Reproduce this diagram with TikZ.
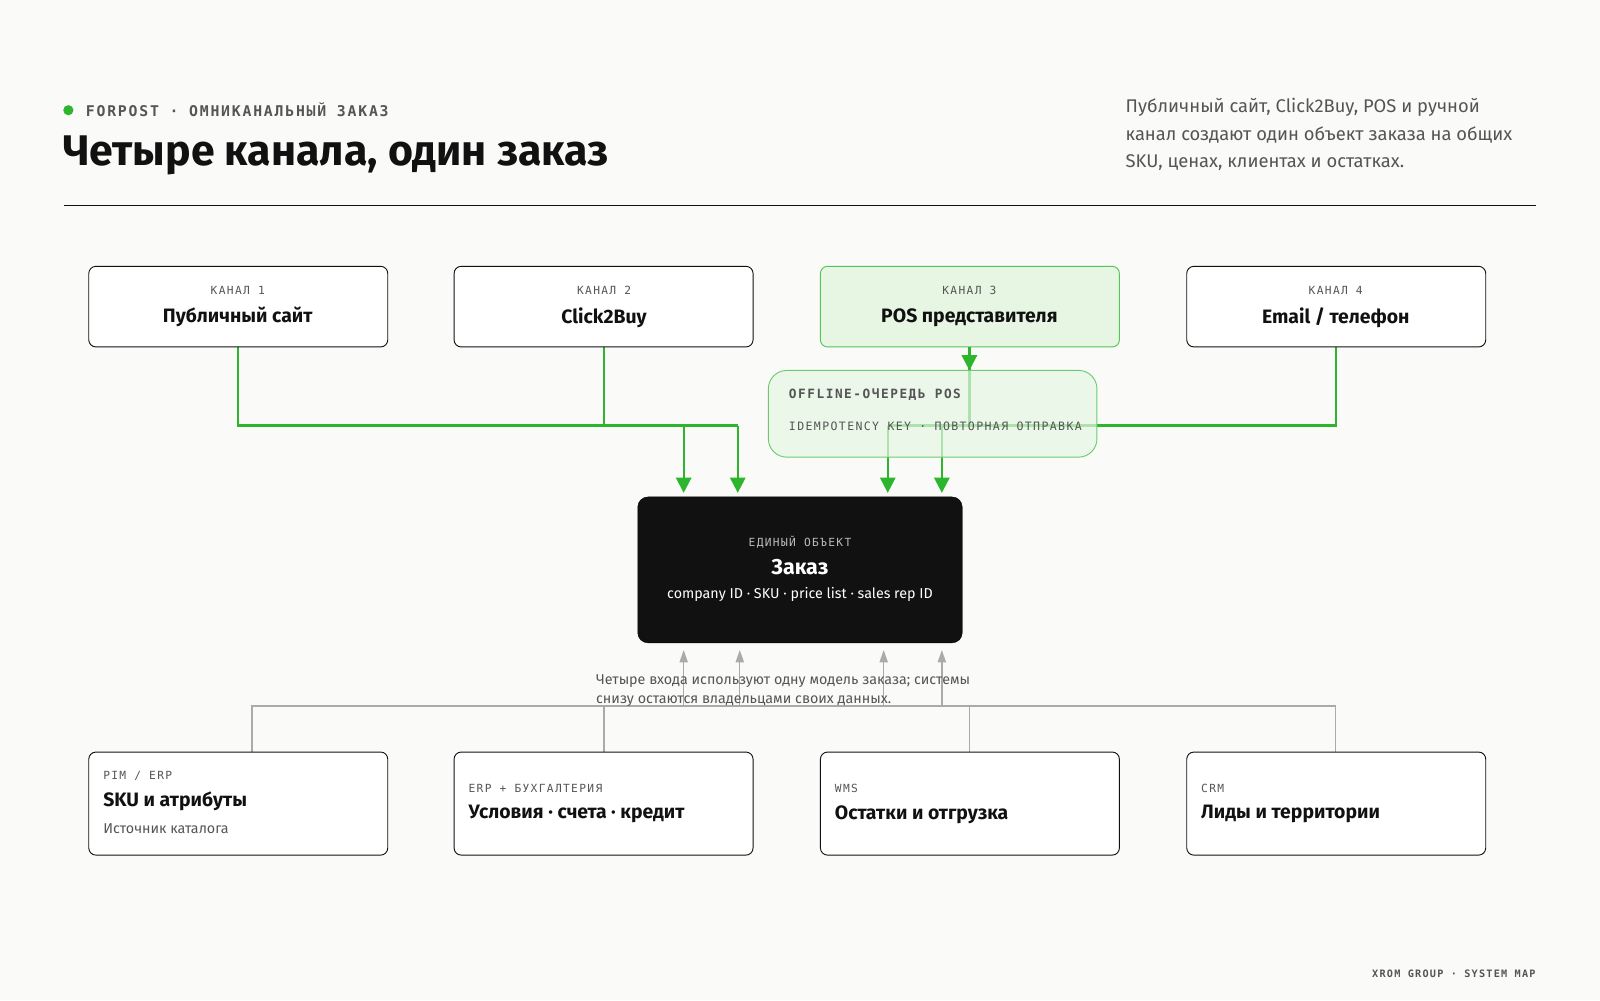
\documentclass[tikz,border=0pt]{standalone}
\usepackage{fontspec}
\setmainfont{Fira Sans}
\newfontfamily\mono[LetterSpace=12]{DejaVu Sans Mono}
\usetikzlibrary{arrows.meta}
\definecolor{bg}{HTML}{FAFAF8}
\definecolor{grn}{HTML}{2DB52D}
\definecolor{lgrn}{HTML}{E6F6E3}
\definecolor{txt}{HTML}{111111}
\definecolor{gtx}{HTML}{555555}
\definecolor{gl}{HTML}{AAAAAA}
\tikzset{
 x=1pt,y=-1pt,
 box/.style={draw=txt,line width=0.9pt,rounded corners=7pt,fill=white},
 lab/.style={font=\mono\fontsize{11}{12}\selectfont,text=gtx},
 ttl/.style={font=\fontseries{sb}\selectfont\fontsize{19}{21}\selectfont,text=txt},
 gline/.style={draw=grn,line width=2.2pt},
 garr/.style={gline,-{Triangle[width=15pt,length=15pt]}},
 sline/.style={draw=gl,line width=1.3pt},
 sarr/.style={sline,-{Triangle[width=8pt,length=12pt]}},
}
\begin{document}
\begin{tikzpicture}
\useasboundingbox[fill=bg] (0,0) rectangle (1568,980);
% header
\fill[grn] (67,108) circle (5);
\node[anchor=west,font=\mono\bfseries\fontsize{14.5}{15}\selectfont,text=gtx,inner sep=0] (hdr) at (84,108) {FORPOST · ОМНИКАНАЛЬНЫЙ ЗАКАЗ};
\node[anchor=west,font=\bfseries\fontsize{42}{46}\selectfont,text=txt,inner sep=0] (title) at (62,152) {Четыре канала, один заказ};
\node[anchor=north west,align=left,font=\fontsize{18}{27}\selectfont,text=gtx,inner sep=0] (desc) at (1103,96) {Публичный сайт, Click2Buy, POS и ручной\\канал создают один объект заказа на общих\\SKU, ценах, клиентах и остатках.};
\draw[txt,line width=0.9pt] (63,201) -- (1505,201);
% connectors top
\coordinate (j1) at (233,417);
\coordinate (j2) at (592,417);
\coordinate (j3) at (723,417);
\coordinate (j4) at (670,417);
\coordinate (k1) at (1309,417);
\coordinate (k2) at (870,417);
\coordinate (k3) at (923,417);
\draw[gline] (233,340) -- (j1) -- (j3);
\draw[gline] (592,340) -- (j2);
\draw[garr] (j4) -- (670,483);
\draw[garr] (j3) -- (723,483);
\draw[gline] (1309,340) -- (k1) -- (k2);
\draw[garr] (k2) -- (870,483);
\draw[garr] (k3) -- (923,483);
\draw[gline] (950,340) -- (950,417);
% boxes top
\draw[box] (87,261) rectangle (380,340);
\draw[box] (445,261) rectangle (738,340);
\draw[box,draw=grn!80,fill=lgrn] (804,261) rectangle (1097,340);
\draw[box] (1163,261) rectangle (1456,340);
\foreach \x/\n/\t in {233/1/{Публичный сайт},592/2/{Click2Buy},950/3/{POS представителя},1309/4/{Email / телефон}}{
 \node[lab] (c\n) at (\x,285) {КАНАЛ \n};
 \node[ttl] (t\n) at (\x,311) {\t};
}
\draw[garr] (950,340) -- (950,363);
% queue
\draw[draw=grn!70,line width=0.9pt,rounded corners=18pt,fill=lgrn,fill opacity=0.7] (753,363) rectangle (1075,448);
\node[anchor=west,font=\mono\bfseries\fontsize{12.5}{13}\selectfont,text=gtx,inner sep=0] (q1) at (773,387) {OFFLINE-ОЧЕРЕДЬ POS};
\node[anchor=west,font=\mono\fontsize{11.3}{12}\selectfont,text=gtx,inner sep=0] (q2) at (773,418) {IDEMPOTENCY KEY · ПОВТОРНАЯ ОТПРАВКА};
% order
\draw[fill=txt,rounded corners=10pt] (625,487) rectangle (943,630);
\node[font=\mono\fontsize{11}{11}\selectfont,text=gray!55] (o1) at (784,531) {ЕДИНЫЙ ОБЪЕКТ};
\node[font=\fontseries{sb}\selectfont\fontsize{21}{22}\selectfont,text=white] (o2) at (784,556) {Заказ};
\node[font=\fontsize{14}{15}\selectfont,text=white] (o3) at (784,583) {company ID · SKU · price list · sales rep ID};
% bottom connectors
\draw[sline] (247,737) -- (247,692) -- (1309,692) -- (1309,737);
\draw[sline] (592,692) -- (592,737);
\draw[sline] (950,692) -- (950,737);
\foreach \x in {670,725,866,923}{\draw[sarr] (\x,692) -- (\x,637);}
\node[anchor=north west,align=left,font=\fontsize{14}{19}\selectfont,text=gtx,inner sep=0] (note) at (584,661) {Четыре входа используют одну модель заказа; системы\\снизу остаются владельцами своих данных.};
% bottom boxes
\draw[box] (87,737) rectangle (380,838);
\draw[box] (445,737) rectangle (738,838);
\draw[box] (804,737) rectangle (1097,838);
\draw[box] (1163,737) rectangle (1456,838);
\node[lab,anchor=west,inner sep=0] (b1a) at (101,760) {PIM / ERP};
\node[ttl,anchor=west,inner sep=0] (b1b) at (101,785) {SKU и атрибуты};
\node[anchor=west,font=\fontsize{14}{15}\selectfont,text=gtx,inner sep=0] (b1c) at (101,812) {Источник каталога};
\node[lab,anchor=west,inner sep=0] (b2a) at (459,773) {ERP + БУХГАЛТЕРИЯ};
\node[ttl,anchor=west,inner sep=0] (b2b) at (459,798) {Условия · счета · кредит};
\node[lab,anchor=west,inner sep=0] (b3a) at (818,773) {WMS};
\node[ttl,anchor=west,inner sep=0] (b3b) at (818,798) {Остатки и отгрузка};
\node[lab,anchor=west,inner sep=0] (b4a) at (1177,773) {CRM};
\node[ttl,anchor=west,inner sep=0] (b4b) at (1177,798) {Лиды и территории};
\node[anchor=east,font=\mono\bfseries\fontsize{10}{11}\selectfont,text=gtx,inner sep=0] (foot) at (1505,954) {XROM GROUP · SYSTEM MAP};
\end{tikzpicture}
\end{document}
